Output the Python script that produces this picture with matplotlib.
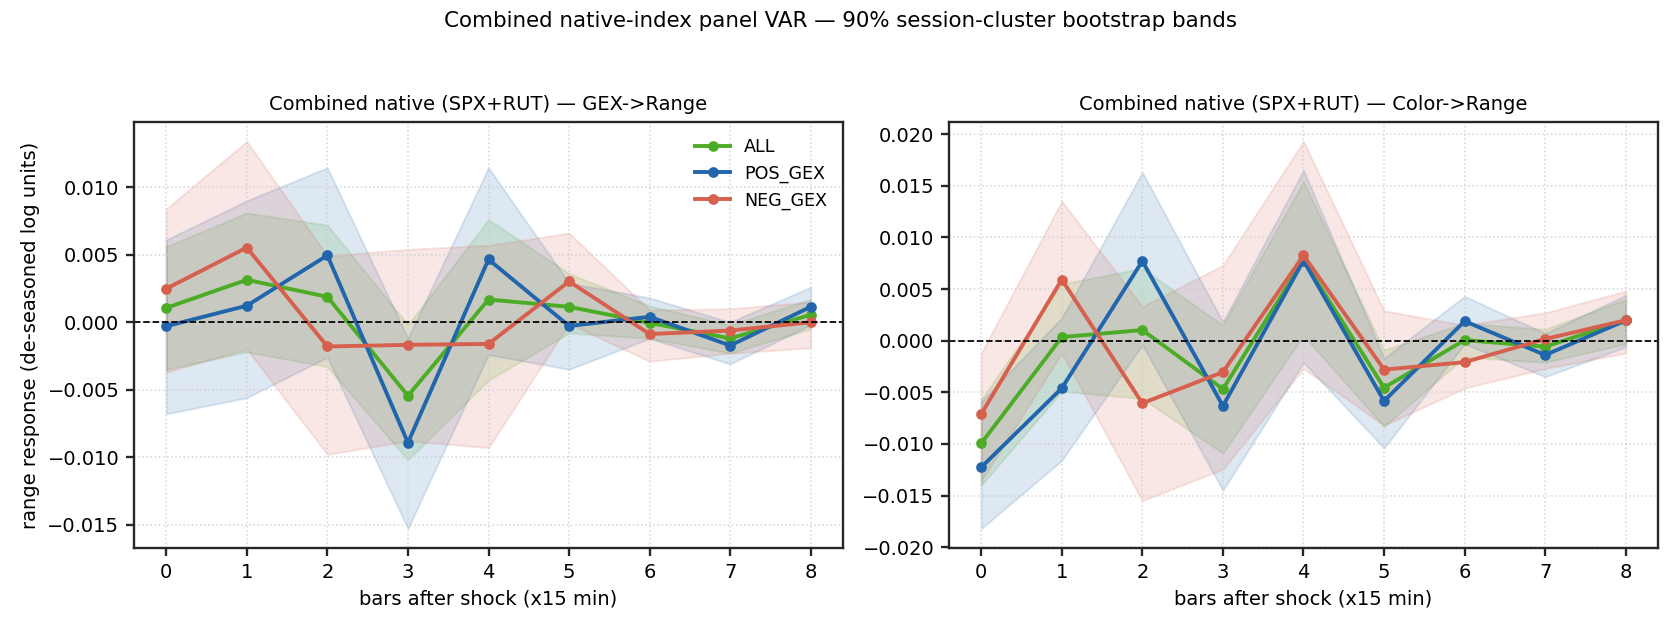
import numpy as np
import matplotlib
matplotlib.use("Agg")
import matplotlib.pyplot as plt

# ---------------- data ----------------
horizons = [0, 1, 2, 3, 4, 5, 6, 7, 8]
series_names = ["ALL", "POS_GEX", "NEG_GEX"]
colors = {"ALL": "#4dac26", "POS_GEX": "#2166ac", "NEG_GEX": "#d6604d"}

# Left panel: GEX -> Range
gex_all = [0.00106, 0.00314, 0.00188, -0.00545, 0.00168, 0.00114, -0.00005, -0.00120, 0.00055]
gex_all_lo = [-0.0035, -0.0022, -0.0033, -0.0102, -0.0043, -0.0008, -0.0012, -0.0023, -0.0005]
gex_all_hi = [0.0056, 0.0081, 0.0072, -0.0002, 0.0076, 0.0036, 0.0012, -0.0002, 0.0017]

gex_pos = [-0.00030, 0.00122, 0.00495, -0.00893, 0.00465, -0.00028, 0.00040, -0.00173, 0.00114]
gex_pos_lo = [-0.0068, -0.0056, -0.0026, -0.0153, -0.0024, -0.0035, -0.0012, -0.0031, -0.0002]
gex_pos_hi = [0.0061, 0.0090, 0.01145, -0.0012, 0.01145, 0.0029, 0.0018, 0.0000, 0.0026]

gex_neg = [0.00248, 0.00553, -0.00180, -0.00168, -0.00161, 0.00302, -0.00088, -0.00062, 0.00000]
gex_neg_lo = [-0.0037, -0.0020, -0.0098, -0.0088, -0.0093, -0.0001, -0.0029, -0.0023, -0.0019]
gex_neg_hi = [0.0084, 0.0134, 0.0049, 0.0054, 0.0057, 0.0066, 0.0009, 0.0010, 0.0015]

# Right panel: Color -> Range
col_all = [-0.00994, 0.00035, 0.00103, -0.00468, 0.00780, -0.00455, 0.00006, -0.00058, 0.00196]
col_all_lo = [-0.0140, -0.0049, -0.0056, -0.0109, 0.0005, -0.0083, -0.0016, -0.0021, -0.0003]
col_all_hi = [-0.0057, 0.0055, 0.0070, 0.0015, 0.0154, -0.0009, 0.0017, 0.0011, 0.0040]

col_pos = [-0.01226, -0.00460, 0.00771, -0.00632, 0.00776, -0.00584, 0.00189, -0.00139, 0.00196]
col_pos_lo = [-0.0182, -0.0116, -0.0004, -0.0145, -0.0021, -0.0104, -0.0003, -0.0035, -0.0006]
col_pos_hi = [-0.0059, 0.0022, 0.0163, 0.0018, 0.0165, -0.0017, 0.0043, 0.0007, 0.0044]

col_neg = [-0.00710, 0.00592, -0.00606, -0.00304, 0.00826, -0.00280, -0.00208, 0.00016, 0.00198]
col_neg_lo = [-0.0136, -0.0012, -0.0155, -0.01245, -0.0027, -0.0082, -0.0046, -0.0027, -0.0012]
col_neg_hi = [-0.0012, 0.0135, 0.0033, 0.0073, 0.0193, 0.0029, 0.0015, 0.0027, 0.0048]

suptitle = "Combined native-index panel VAR \u2014 90% session-cluster bootstrap bands"
titles = ["Combined native (SPX+RUT) \u2014 GEX->Range",
          "Combined native (SPX+RUT) \u2014 Color->Range"]
xlabel = "bars after shock (x15 min)"
ylabel = "range response (de-seasoned log units)"

panels = [
    {"ALL": (gex_all, gex_all_lo, gex_all_hi),
     "POS_GEX": (gex_pos, gex_pos_lo, gex_pos_hi),
     "NEG_GEX": (gex_neg, gex_neg_lo, gex_neg_hi)},
    {"ALL": (col_all, col_all_lo, col_all_hi),
     "POS_GEX": (col_pos, col_pos_lo, col_pos_hi),
     "NEG_GEX": (col_neg, col_neg_lo, col_neg_hi)},
]

# ---------------- plot ----------------
plt.rcParams["font.family"] = ["DejaVu Sans"]
plt.rcParams["axes.edgecolor"] = "#262626"
plt.rcParams["text.color"] = "#000000"

fig, axes = plt.subplots(1, 2, figsize=(12, 4.5), dpi=140)
fig.subplots_adjust(left=134/1680, right=1658/1680, top=1-122/630, bottom=1-548/630,
                    wspace=0.1495)

for i, ax in enumerate(axes):
    data = panels[i]
    for name in series_names:
        mid, lo, hi = data[name]
        ax.fill_between(horizons, lo, hi, color=colors[name], alpha=0.15)
        ax.plot(horizons, mid, marker="o", ms=4.5, lw=2, color=colors[name], label=name)
    ax.axhline(0, color="black", ls="--", lw=0.9)
    ax.set_title(titles[i], fontsize=10)
    ax.set_xlabel(xlabel, fontsize=10)
    ax.set_xticks(horizons)
    ax.grid(True, ls=":", color="#cccccc", lw=0.8, alpha=0.8)
    for sp in ax.spines.values():
        sp.set_linewidth(1.2)
    ax.tick_params(labelsize=10, width=1.2, length=4, color="#262626")

axes[0].set_ylabel(ylabel, fontsize=10)
axes[0].legend(loc="upper right", frameon=False, fontsize=9)
fig.suptitle(suptitle, fontsize=11, y=0.966, va="center")

fig.savefig("out.png", dpi=140)
